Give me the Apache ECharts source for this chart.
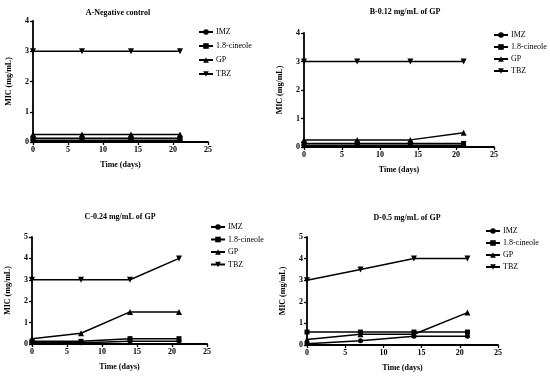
<!DOCTYPE html>
<html><head><meta charset="utf-8">
<script src="https://cdn.jsdelivr.net/npm/echarts@6/dist/echarts.min.js"></script>
<style>html,body{margin:0;padding:0;background:#fff}#c{width:550px;height:378px}</style>
</head><body><div id="c"></div>
<script>
const days = [0, 7, 14, 21];
const seriesNames = ['IMZ', '1.8-cineole', 'GP', 'TBZ'];
const panelTitles = ['A-Negative control', 'B-0.12 mg/mL of GP', 'C-0.24 mg/mL of GP', 'D-0.5 mg/mL of GP'];
const xTicks = [0, 5, 10, 15, 20, 25];
const yMaxA = 4, yMaxB = 4, yMaxC = 5, yMaxD = 5;
// Panel A
const A_IMZ = [0.06, 0.06, 0.06, 0.06];
const A_CIN = [0.125, 0.125, 0.125, 0.125];
const A_GP  = [0.25, 0.25, 0.25, 0.25];
const A_TBZ = [3, 3, 3, 3];
// Panel B
const B_IMZ = [0.06, 0.06, 0.06, 0.06];
const B_CIN = [0.125, 0.125, 0.125, 0.125];
const B_GP  = [0.25, 0.25, 0.25, 0.5];
const B_TBZ = [3, 3, 3, 3];
// Panel C
const C_IMZ = [0.06, 0.06, 0.125, 0.125];
const C_CIN = [0.125, 0.125, 0.25, 0.25];
const C_GP  = [0.25, 0.5, 1.5, 1.5];
const C_TBZ = [3, 3, 3, 4];
// Panel D
const D_IMZ = [0.06, 0.2, 0.4, 0.4];
const D_CIN = [0.6, 0.6, 0.6, 0.6];
const D_GP  = [0.25, 0.5, 0.5, 1.5];
const D_TBZ = [3, 3.5, 4, 4];

const panels = [
  [A_IMZ, A_CIN, A_GP, A_TBZ],
  [B_IMZ, B_CIN, B_GP, B_TBZ],
  [C_IMZ, C_CIN, C_GP, C_TBZ],
  [D_IMZ, D_CIN, D_GP, D_TBZ]
];
const yMaxes = [yMaxA, yMaxB, yMaxC, yMaxD];

const FONT = 'Liberation Serif';
const grids = [
  {left: 33, top: 21, width: 175, height: 121},
  {left: 304, top: 33, width: 190, height: 114},
  {left: 32, top: 237, width: 175, height: 107},
  {left: 307, top: 237, width: 191, height: 108}
];
const titlePos = [[113, 4], [400, 3], [115, 208], [402, 209]];
const legendPos = [[193, 23, 6], [488, 26, 4], [205, 218, 4.5], [480, 222, 4]];
const symbols = ['circle', 'rect', 'triangle', 'triangle'];
const rotates = [0, 0, 0, 180];
const sizes = [5, 5, 6, 6];

const option = {
  animation: false,
  backgroundColor: '#fff',
  textStyle: {fontFamily: FONT},
  title: panelTitles.map((t, i) => ({
    text: t, left: titlePos[i][0], top: titlePos[i][1], textAlign: 'center',
    textStyle: {fontFamily: FONT, fontSize: 8, fontWeight: 'bold', color: '#000'}
  })),
  legend: legendPos.map((p, i) => ({
    left: p[0], top: p[1], orient: 'vertical', itemWidth: 14, itemHeight: 7, itemGap: p[2],
    data: seriesNames,
    textStyle: {fontFamily: FONT, fontSize: 8, color: '#000', padding: [0, 0, 0, -2]},
    selectedMode: false
  })),
  grid: grids,
  xAxis: grids.map((g, i) => ({
    gridIndex: i, type: 'value', min: xTicks[0], max: xTicks[xTicks.length - 1], interval: 5,
    name: 'Time (days)', nameLocation: 'middle', nameGap: 19,
    nameTextStyle: {fontFamily: FONT, fontSize: 8, fontWeight: 'bold', color: '#000'},
    axisLine: {lineStyle: {color: '#000', width: 1.8}},
    axisTick: {show: true, length: 3, lineStyle: {color: '#000', width: 1.3}},
    axisLabel: {fontFamily: FONT, fontSize: 8, fontWeight: 'bold', color: '#000', margin: 4},
    splitLine: {show: false}
  })),
  yAxis: grids.map((g, i) => ({
    gridIndex: i, type: 'value', min: 0, max: yMaxes[i], interval: 1,
    name: 'MIC (mg/mL)', nameLocation: 'middle', nameGap: 20,
    nameTextStyle: {fontFamily: FONT, fontSize: 8, fontWeight: 'bold', color: '#000'},
    axisLine: {show: true, lineStyle: {color: '#000', width: 1.8}},
    axisTick: {show: true, length: 3, lineStyle: {color: '#000', width: 1.3}},
    axisLabel: {fontFamily: FONT, fontSize: 8, fontWeight: 'bold', color: '#000', margin: 4},
    splitLine: {show: false}
  })),
  series: []
};
panels.forEach((vals, pi) => {
  vals.forEach((v, si) => {
    option.series.push({
      name: seriesNames[si], type: 'line', xAxisIndex: pi, yAxisIndex: pi,
      data: days.map((d, k) => [d, v[k]]),
      symbol: symbols[si], symbolSize: sizes[si], symbolRotate: rotates[si],
      lineStyle: {color: '#000', width: 1.5}, itemStyle: {color: '#000'},
      z: 2
    });
  });
});
const chart = echarts.init(document.getElementById('c'));
chart.setOption(option);
</script></body></html>
